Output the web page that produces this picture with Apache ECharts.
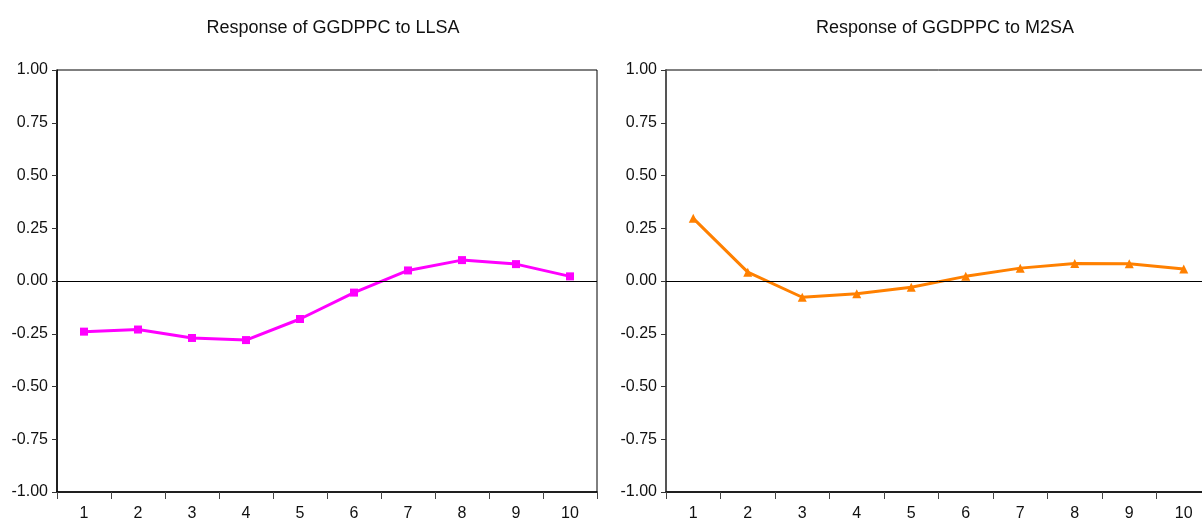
<!DOCTYPE html>
<html>
<head>
<meta charset="utf-8">
<script src="https://cdn.jsdelivr.net/npm/echarts@6/dist/echarts.min.js"></script>
<style>
html,body{margin:0;padding:0;background:#fff;overflow:hidden;}
#chart{width:1214px;height:522px;}
</style>
</head>
<body>
<div id="chart"></div>
<script>
var periods = ['1','2','3','4','5','6','7','8','9','10'];
var llsaResp = [-0.24, -0.23, -0.27, -0.28, -0.18, -0.055, 0.05, 0.099, 0.08, 0.022];
var m2saResp = [0.297, 0.042, -0.077, -0.06, -0.03, 0.022, 0.061, 0.083, 0.082, 0.057];
var titles = ['Response of GGDPPC to LLSA', 'Response of GGDPPC to M2SA'];

var font = '"Liberation Sans", Arial, sans-serif';

function xAx(idx){
  return {
    type:'category', gridIndex:idx, data:periods, boundaryGap:true,
    axisLine:{onZero:false,lineStyle:{color:'#000',width:1.5}},
    axisTick:{show:true,length:7,alignWithLabel:false,lineStyle:{color:'#444'}},
    axisLabel:{color:'#111',fontSize:16,fontFamily:font,margin:14},
    splitLine:{show:false}
  };
}
function yAx(idx, lineCol, lineW){
  return {
    type:'value', gridIndex:idx, min:-1, max:1, interval:0.25,
    axisLine:{show:true,lineStyle:{color:lineCol,width:lineW}},
    axisTick:{show:true,length:5,lineStyle:{color:'#333'}},
    axisLabel:{color:'#111',fontSize:16,fontFamily:font,margin:9,
      formatter:function(v){return v.toFixed(2);}},
    splitLine:{show:false}
  };
}
// thin black line at zero
function zeroLine(){
  return {silent:true,symbol:'none',label:{show:false},
    lineStyle:{color:'#000',width:1,type:'solid'},
    data:[{yAxis:0}], animation:false};
}

var myChart = echarts.init(document.getElementById('chart'));
var option = {
  animation:false,
  backgroundColor:'#fff',
  title:[
    {text:titles[0],left:328,top:14,textAlign:'center',
     textStyle:{fontSize:18,fontWeight:'normal',color:'#111',fontFamily:font}},
    {text:titles[1],left:940,top:14,textAlign:'center',
     textStyle:{fontSize:18,fontWeight:'normal',color:'#111',fontFamily:font}}
  ],
  grid:[
    {left:57,top:70,width:540,height:424,show:true,borderColor:'#000',borderWidth:1,backgroundColor:'transparent'},
    {left:666,top:70,width:545,height:424,show:true,borderColor:'#000',borderWidth:1,backgroundColor:'transparent'}
  ],
  xAxis:[xAx(0), xAx(1)],
  yAxis:[yAx(0,'#000',1.5), yAx(1,'#555',2)],
  series:[
    {type:'line',xAxisIndex:0,yAxisIndex:0,data:llsaResp,
     symbol:'rect',symbolSize:8,
     lineStyle:{color:'#ff00ff',width:3},
     itemStyle:{color:'#ff00ff'},
     markLine:zeroLine()},
    {type:'line',xAxisIndex:1,yAxisIndex:1,data:m2saResp,
     symbol:'triangle',symbolSize:9,
     lineStyle:{color:'#ff8000',width:3},
     itemStyle:{color:'#ff8000'},
     markLine:zeroLine()}
  ]
};
myChart.setOption(option);
window.addEventListener('resize', function(){ myChart.resize(); });
</script>
</body>
</html>
